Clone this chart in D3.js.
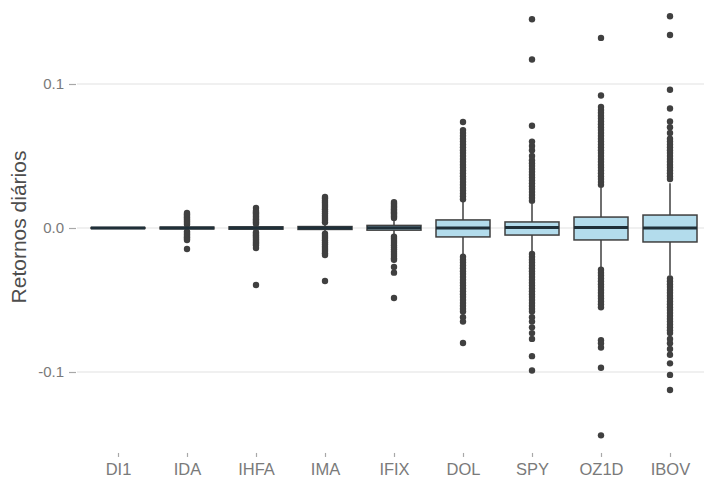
<!DOCTYPE html>
<html><head><meta charset="utf-8">
<script src="https://cdn.jsdelivr.net/npm/d3@7"></script>
<style>body{margin:0;background:#fff}svg{display:block}</style>
</head><body>
<script>
const categories = ["DI1","IDA","IHFA","IMA","IFIX","DOL","SPY","OZ1D","IBOV"];
const q1    = [-0.0003,-0.0006,-0.0008,-0.001,-0.0015,-0.0062,-0.0049,-0.0083,-0.0097];
const med   = [0,0,0,0,0.0002,0,0.0003,0.0003,0];
const q3    = [0.0003,0.0006,0.0008,0.001,0.0018,0.0056,0.0042,0.0076,0.009];
const wLow  = [-0.0005,-0.0015,-0.002,-0.003,-0.005,-0.018,-0.0165,-0.027,-0.033];
const wHigh = [0.0005,0.0015,0.002,0.003,0.006,0.018,0.0175,0.028,0.031];
const outliers = [
  [],
  [0.0025,0.0035,0.0045,0.0055,0.0065,0.0075,0.0085,0.0095,0.0104,
   -0.0025,-0.0035,-0.0045,-0.0055,-0.0065,-0.0075,-0.0083,-0.0146],
  [0.003,0.004,0.005,0.006,0.007,0.008,0.009,0.010,0.011,0.012,0.0139,
   -0.003,-0.004,-0.005,-0.006,-0.007,-0.008,-0.009,-0.010,-0.011,-0.012,-0.0139,-0.0396],
  [0.004,0.0055,0.007,0.0085,0.010,0.0115,0.013,0.0145,0.016,0.0175,0.019,0.0205,0.0215,
   -0.004,-0.0055,-0.007,-0.0085,-0.010,-0.0115,-0.013,-0.0145,-0.016,-0.0175,-0.0188,-0.0368],
  [0.007,0.008,0.009,0.010,0.011,0.012,0.013,0.014,0.015,0.016,0.017,0.018,
   -0.006,-0.0075,-0.009,-0.0105,-0.012,-0.0135,-0.015,-0.0165,-0.018,-0.0195,-0.021,-0.022,-0.027,-0.031,-0.0486],
  [0.020,0.022,0.024,0.026,0.028,0.030,0.032,0.034,0.036,0.038,0.040,0.042,0.044,0.046,0.048,0.050,0.052,0.054,0.056,0.058,0.060,0.062,0.064,0.066,0.068,0.0736,
   -0.020,-0.022,-0.024,-0.026,-0.028,-0.030,-0.032,-0.034,-0.036,-0.038,-0.040,-0.042,-0.044,-0.046,-0.048,-0.050,-0.052,-0.054,-0.056,-0.058,-0.062,-0.065,-0.0799],
  [0.019,0.021,0.023,0.025,0.027,0.029,0.031,0.033,0.035,0.037,0.039,0.041,0.043,0.045,0.047,0.050,0.054,0.057,0.060,0.071,0.117,0.145,
   -0.018,-0.020,-0.022,-0.024,-0.026,-0.028,-0.030,-0.032,-0.034,-0.036,-0.038,-0.040,-0.042,-0.044,-0.046,-0.048,-0.050,-0.052,-0.054,-0.056,-0.058,-0.062,-0.065,-0.069,-0.073,-0.077,-0.089,-0.099],
  [0.030,0.032,0.034,0.036,0.038,0.040,0.042,0.044,0.046,0.048,0.050,0.052,0.054,0.056,0.058,0.060,0.062,0.064,0.066,0.068,0.070,0.072,0.074,0.076,0.078,0.080,0.082,0.084,0.092,0.132,
   -0.029,-0.031,-0.033,-0.035,-0.037,-0.039,-0.041,-0.043,-0.045,-0.047,-0.049,-0.051,-0.053,-0.055,-0.078,-0.080,-0.083,-0.097,-0.144],
  [0.034,0.036,0.038,0.040,0.042,0.044,0.046,0.048,0.050,0.052,0.054,0.056,0.058,0.060,0.062,0.066,0.070,0.074,0.083,0.096,0.134,0.147,
   -0.035,-0.037,-0.039,-0.041,-0.043,-0.045,-0.047,-0.049,-0.051,-0.053,-0.055,-0.057,-0.059,-0.061,-0.063,-0.065,-0.067,-0.069,-0.071,-0.073,-0.077,-0.080,-0.084,-0.088,-0.094,-0.102,-0.1125]
];
const yTicks = [-0.1, 0.0, 0.1];
const yTickLabels = ["-0.1","0.0","0.1"];
const yTitle = "Retornos diários";

const W = 704, H = 477;
const FONT = "Liberation Sans, Arial, sans-serif";
const svg = d3.select("body").append("svg").attr("width", W).attr("height", H);

const x = d3.scalePoint().domain(categories).range([76.6, 711.4]).padding(0.6);
const y = d3.scaleLinear().domain([-0.1, 0.1]).range([372, 84]);
const panelBottom = y(-0.159);
const boxW = 54;

// gridlines
svg.append("g").selectAll("line").data(yTicks).join("line")
  .attr("x1", 77).attr("x2", W).attr("y1", d => y(d)).attr("y2", d => y(d))
  .attr("stroke", "#ebebeb").attr("stroke-width", 1.6);

// y axis
const yAxis = d3.axisLeft(y).tickValues(yTicks).tickSize(7).tickPadding(5)
  .tickFormat((d, i) => yTickLabels[i]);
const gy = svg.append("g").attr("transform", "translate(76,0)").call(yAxis);
gy.select(".domain").remove();
gy.selectAll(".tick line").attr("stroke", "#a8a8a8").attr("stroke-width", 1.2);
gy.selectAll(".tick text").attr("fill", "#7a7a7a").attr("font-size", 15)
  .attr("font-family", FONT);

// x axis
const xAxis = d3.axisBottom(x).tickSize(4).tickPadding(7);
const gx = svg.append("g").attr("transform", `translate(0,${panelBottom - 4})`).call(xAxis);
gx.select(".domain").remove();
gx.selectAll(".tick line").attr("stroke", "#a8a8a8").attr("stroke-width", 1.2);
gx.selectAll(".tick text").attr("fill", "#7a7a7a").attr("font-size", 16.5)
  .attr("font-family", FONT).attr("dy", null).attr("y", 475 - (panelBottom - 4));

// y title
svg.append("text").attr("transform", `translate(26,${y(0) - 1}) rotate(-90)`)
  .attr("text-anchor", "middle").attr("font-size", 21)
  .attr("font-family", FONT)
  .attr("fill", "#4d4d4d").text(yTitle);

// boxes
const g = svg.append("g");
categories.forEach((c, i) => {
  const cx = x(c);
  const gg = g.append("g");
  gg.append("line").attr("x1", cx).attr("x2", cx).attr("y1", y(q3[i])).attr("y2", y(wHigh[i]))
    .attr("stroke", "#3f3f3f").attr("stroke-width", 1.5);
  gg.append("line").attr("x1", cx).attr("x2", cx).attr("y1", y(q1[i])).attr("y2", y(wLow[i]))
    .attr("stroke", "#3f3f3f").attr("stroke-width", 1.5);
  gg.selectAll("circle").data(outliers[i]).join("circle")
    .attr("cx", cx).attr("cy", d => y(d)).attr("r", 3.2).attr("fill", "#404040");
  gg.append("rect").attr("x", cx - boxW / 2).attr("width", boxW)
    .attr("y", y(q3[i])).attr("height", Math.max(0.01, y(q1[i]) - y(q3[i])))
    .attr("fill", "#b3dcec").attr("stroke", "#3f3f3f").attr("stroke-width", 1.5);
  gg.append("line").attr("x1", cx - boxW / 2).attr("x2", cx + boxW / 2)
    .attr("y1", y(med[i])).attr("y2", y(med[i]))
    .attr("stroke", "#1f2f38").attr("stroke-width", 3);
});
</script>
</body></html>
